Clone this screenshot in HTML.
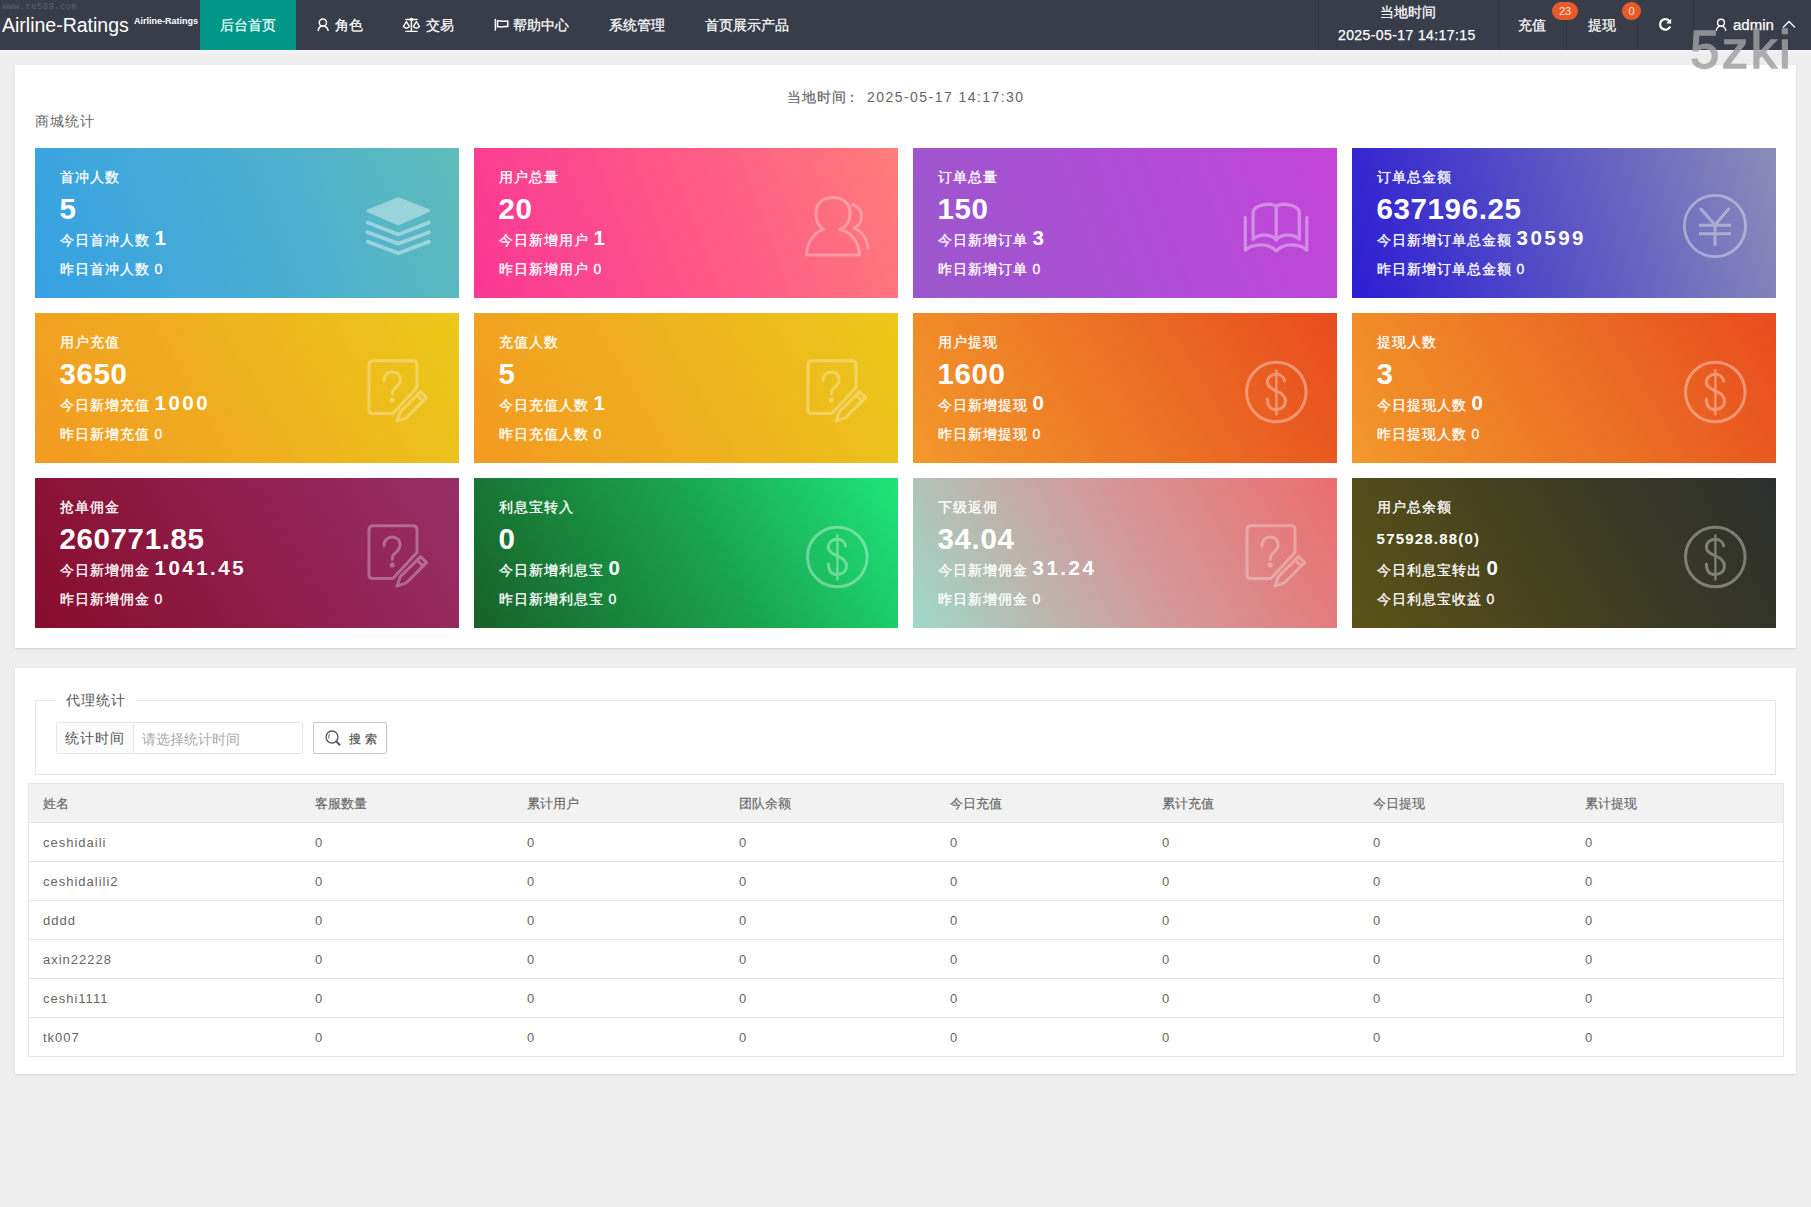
<!DOCTYPE html>
<html><head><meta charset="utf-8">
<style>
*{box-sizing:border-box;margin:0;padding:0}
html,body{width:1811px;height:1207px;overflow:hidden}
body{background:#eeeeee;font-family:"Liberation Sans",sans-serif;font-size:14px;color:#666;position:relative}
.abs{position:absolute;white-space:nowrap}
#hdr{position:absolute;left:0;top:0;width:1811px;height:50px;background:#393D49}
#hdr .t{position:absolute;color:#fff;font-size:14px;line-height:16px;white-space:nowrap;-webkit-text-stroke:0.25px currentColor}
.sep{position:absolute;top:0;width:1px;height:50px;background:rgba(0,0,0,.13)}
.badge{position:absolute;background:#E95A2B;color:#ffe6d2;font-size:11px;line-height:18px;height:18px;text-align:center;border-radius:9px}
.panel{position:absolute;left:15px;width:1781px;background:#fff;box-shadow:0 1px 2px rgba(0,0,0,.12)}
.card{position:absolute;width:424px;height:150px;color:#fff;letter-spacing:1px;overflow:hidden;-webkit-text-stroke:0.3px #fff}
.card .l{position:absolute;left:24.6px;white-space:nowrap}
.card .ti{top:21px;font-size:14px;line-height:16px}
.card .nu{top:45px;font-size:29.5px;line-height:32px;font-weight:bold;letter-spacing:0.6px;-webkit-text-stroke:0}
.card .nu.sm{top:53px;font-size:15px;line-height:16px;letter-spacing:1.2px}
.card .td{top:80px;font-size:14px;line-height:20px}
.card .td b{font-size:20.5px;letter-spacing:2.5px;-webkit-text-stroke:0}
.card .yd{top:113px;font-size:14px;line-height:16px}
.fs{position:absolute;border:1px solid #e6e6e6}
.th{font-size:13px;line-height:16px;letter-spacing:0;color:#666;-webkit-text-stroke:0.15px #666}
.td2{font-size:13px;line-height:16px;letter-spacing:1px;color:#666}
.card svg{position:absolute;left:331px;top:46px;width:64px;height:64px;overflow:visible}
</style></head><body>

<div id="hdr">
  <div class="abs" style="left:2.5px;top:1.5px;font-family:'Liberation Mono',monospace;font-size:9px;line-height:11px;color:#5d616c;letter-spacing:.35px">www.re589.com</div>
  <div class="abs" style="left:2px;top:13.5px;font-size:19.5px;line-height:22px;color:#fff">Airline-Ratings</div>
  <div class="abs" style="left:134px;top:15.5px;font-size:9px;line-height:11px;color:#fff;font-weight:bold">Airline-Ratings</div>
  <div class="abs" style="left:200px;top:0;width:96px;height:50px;background:#009688"></div>
  <div class="t" style="left:220px;top:17px;color:#e8fffb">后台首页</div>
  <div class="t" style="left:335px;top:17px">角色</div>
  <div class="t" style="left:426px;top:17px">交易</div>
  <div class="t" style="left:513px;top:17px">帮助中心</div>
  <div class="t" style="left:609px;top:17px">系统管理</div>
  <div class="t" style="left:705px;top:17px">首页展示产品</div>

  <div class="sep" style="left:1318px"></div>
  <div class="sep" style="left:1499px"></div>
  <div class="sep" style="left:1566px"></div>
  <div class="sep" style="left:1637px"></div>
  <div class="sep" style="left:1693px"></div>
  <div class="t" style="left:1380px;top:4px">当地时间</div>
  <div class="t" style="left:1338px;top:27px;letter-spacing:0.4px">2025-05-17 14:17:15</div>
  <div class="t" style="left:1518px;top:17px">充值</div>
  <div class="t" style="left:1588px;top:17px">提现</div>
  <div class="badge" style="left:1552px;top:2px;width:26px">23</div>
  <div class="badge" style="left:1622px;top:2px;width:19px">0</div>
  <div class="t" style="left:1733px;top:16.5px;font-size:15px">admin</div>
  <svg class="abs" style="left:310px;top:10px" width="30" height="30" viewBox="310 10 30 30"><g fill="none" stroke="#fff" stroke-width="1.5" stroke-linecap="round"><circle cx="322.9" cy="22.6" r="3.6"/><path d="M318.2,30.4 C318.6,27.5 320.5,25.9 322.9,25.9 C325.3,25.9 327.4,27.5 328.1,30.4"/></g></svg>
  <svg class="abs" style="left:395px;top:10px" width="30" height="30" viewBox="395 10 30 30"><g fill="none" stroke="#fff" stroke-width="1.4" stroke-linecap="round" stroke-linejoin="round"><path d="M405.9,19.5 H417.1 M405.9,31.4 H417.1 M411.4,20 V31.4"/><circle cx="411.4" cy="19.5" r="1.1" fill="#fff"/><path d="M406.4,21.7 L403.3,26.6 Q406.4,29.8 409.5,26.6 Z M416.4,21.7 L413.3,26.6 Q416.4,29.8 419.5,26.6 Z"/></g></svg>
  <svg class="abs" style="left:485px;top:10px" width="30" height="30" viewBox="485 10 30 30"><g fill="none" stroke="#fff" stroke-width="1.5" stroke-linecap="round" stroke-linejoin="round"><path d="M495.4,19.5 V30.1"/><path d="M497.5,21 C500,20 502,22 504.5,21.2 C505.8,20.8 507.2,21 507.8,21 V26.5 C506,26.5 504.5,26.2 502.5,26.8 C500.5,27.3 499,26.3 497.5,26.8 Z"/></g></svg>
  <svg class="abs" style="left:1650px;top:10px" width="30" height="30" viewBox="1650 10 30 30"><g fill="none" stroke="#fff" stroke-width="2.2" stroke-linecap="butt"><path d="M1669.6,21.2 A5.3,5.3 0 1 0 1670.2,26.5"/></g><path d="M1671.2,18.7 L1671.2,23.8 L1666.2,23.2 Z" fill="#fff"/></svg>
  <svg class="abs" style="left:1705px;top:10px" width="30" height="30" viewBox="1705 10 30 30"><g fill="none" stroke="#fff" stroke-width="1.4" stroke-linecap="round"><circle cx="1721" cy="22.7" r="3.4"/><path d="M1716.3,30.4 C1716.7,27.6 1718.6,26.1 1721,26.1 C1723.4,26.1 1725.3,27.6 1725.7,30.4"/></g></svg>
  <svg class="abs" style="left:1780px;top:15px" width="18" height="16" viewBox="1780 15 18 16"><path d="M1783,27.5 L1789,21.5 L1795,27.5" fill="none" stroke="#fff" stroke-width="1.3"/></svg>

</div>

<div class="abs" style="left:0;top:50px;width:1811px;height:1px;background:#f7f6fa"></div><div class="abs" style="left:0;top:51px;width:1811px;height:3px;background:#f0eff3"></div>
<div class="panel" style="top:65px;height:583px"></div>
<svg width="0" height="0" style="position:absolute">
 <defs>
  <symbol style="overflow:visible" id="i-layers" viewBox="0 0 64 64">
   <g opacity=".4" fill="none" stroke="#fff" stroke-width="3.8" stroke-linecap="round" stroke-linejoin="round">
    <path d="M2,16.9 L32.3,4.6 L62.6,16.6 L32.3,29.8 Z" fill="#fff" stroke-width="3"/>
    <path d="M1.6,28.5 L32.3,40.4 L63,28.5"/>
    <path d="M1.6,38.2 L32.3,49.6 L63,38.2"/>
    <path d="M1.6,47.6 L32.3,59.2 L63,47.6"/>
   </g>
  </symbol>
  <symbol style="overflow:visible" id="i-users" viewBox="0 0 64 64">
   <g opacity=".3" fill="none" stroke="#fff" stroke-width="3" stroke-linecap="round" stroke-linejoin="round">
    <path d="M18.6,35.4 C12,31.5 10.5,24 11,17 C12,8.5 19,3.5 28,3.5 C37,3.5 44,8.5 45,17 C45.5,24 44,31.5 35,35.4 C47,38.5 54,48 54.5,61 L1.5,61 C2,48 9,38.5 18.6,35.4 Z"/>
    <path d="M47.5,10.5 C54,12.5 56.5,18 56.5,23 C56.5,28 54,31.5 49,34 C57,37 62,45 63,54"/>
   </g>
  </symbol>
  <symbol style="overflow:visible" id="i-book" viewBox="0 0 64 64">
   <g opacity=".36" fill="none" stroke="#fff" stroke-width="3.3" stroke-linecap="round" stroke-linejoin="round">
    <path d="M1.3,23.5 V56.3 C8,50 24,48 32.2,57 C40.4,48 56.4,50 62.8,56.3 V23.5"/>
    <path d="M9.1,45 V19 C9.1,10 28,8.5 32.2,12.5 C36.4,8.5 55.3,10 55.3,19 V45"/>
    <path d="M9.1,45 C16,39.5 27,39.5 32.2,46 C37.4,39.5 48.4,39.5 55.3,45"/>
    <path d="M32.2,12.5 V46"/>
   </g>
  </symbol>
  <symbol style="overflow:visible" id="i-yen" viewBox="0 0 64 64">
   <g opacity=".38" fill="none" stroke="#fff" stroke-width="2.8" stroke-linecap="round" stroke-linejoin="round">
    <circle cx="32" cy="32" r="30.6"/>
    <path d="M18,15 L32,31 L45.6,15" stroke-width="3"/>
    <path d="M32,31 V50.5" stroke-width="3"/>
    <path d="M16,31.3 H48 M16,39.8 H48" stroke-width="3" stroke-linecap="butt"/>
   </g>
  </symbol>
  <symbol style="overflow:visible" id="i-survey" viewBox="0 0 64 64">
   <g opacity=".3" fill="none" stroke="#fff" stroke-width="3" stroke-linecap="round" stroke-linejoin="round">
    <path d="M26.9,54.6 H7 Q3,54.6 3,50.6 V5.7 Q3,1.7 7,1.7 H47 Q51,1.7 51,5.7 V28.5 Z" stroke-linejoin="miter"/>
    <path d="M54.5,32.6 L60.5,38.6 L40.4,58.8 L31,62.1 L34.3,52.7 Z"/>
    <path d="M51,36 L57,42"/>
    <path d="M18,21.8 C18,16.5 21.5,12.9 26.2,12.9 C30.8,12.9 34.2,16.2 34.2,20.8 C34.2,25.2 31,27.3 28.3,29.8 C26.9,31.2 26.3,32.8 26.3,35.2"/>
    <circle cx="26.2" cy="41" r="1.1" fill="#fff"/>
   </g>
  </symbol>
  <symbol style="overflow:visible" id="i-dollar" viewBox="0 0 64 64">
   <g opacity=".36" fill="none" stroke="#fff" stroke-width="3" stroke-linecap="round" stroke-linejoin="round">
    <circle cx="32.3" cy="33" r="29.8"/>
    <path d="M40.6,22 C39.8,17.8 36.4,15.3 32.3,15.3 C27.4,15.3 23.4,18.3 23.4,23 C23.4,27.8 27.5,29.8 32.3,31.8 C37.2,33.8 41.5,36.4 41.5,42 C41.5,47 37.5,50.6 32.3,50.6 C27,50.6 23.4,47.2 23.4,40"/>
    <path d="M32.4,11.5 V55.3" stroke-width="2.4"/>
   </g>
  </symbol>
 </defs>
</svg>

<div class="abs" style="left:787px;top:89px;letter-spacing:1px;line-height:16px;-webkit-text-stroke:0.2px #666">当地时间<span style="margin-left:-2px">：</span></div><div class="abs" style="left:867px;top:89px;letter-spacing:1.45px;line-height:16px">2025-05-17 14:17:30</div>
<div class="abs" style="left:35px;top:113px;letter-spacing:1px;line-height:16px">商城统计</div>
<div class="card" style="left:35px;top:148px;background:linear-gradient(70deg,#36a1e4 0%,#4db0cf 60%,#5fbcb9 100%)">
 <div class="l ti">首冲人数</div><div class="l nu">5</div>
 <div class="l td">今日首冲人数 <b>1</b></div><div class="l yd">昨日首冲人数 0</div>
 <svg viewBox="0 0 64 64"><use href="#i-layers"/></svg>
</div>
<div class="card" style="left:474px;top:148px;background:linear-gradient(70deg,#fa3795 0%,#fe5a86 55%,#ff7d7a 100%)">
 <div class="l ti">用户总量</div><div class="l nu">20</div>
 <div class="l td">今日新增用户 <b>1</b></div><div class="l yd">昨日新增用户 0</div>
 <svg viewBox="0 0 64 64"><use href="#i-users"/></svg>
</div>
<div class="card" style="left:913px;top:148px;background:linear-gradient(70deg,#9a58cb 0%,#b04cd6 55%,#c345d8 100%)">
 <div class="l ti">订单总量</div><div class="l nu">150</div>
 <div class="l td">今日新增订单 <b>3</b></div><div class="l yd">昨日新增订单 0</div>
 <svg viewBox="0 0 64 64"><use href="#i-book"/></svg>
</div>
<div class="card" style="left:1352px;top:148px;background:linear-gradient(75deg,#2b1dd3 0%,#5a55c4 50%,#8c8cb8 100%)">
 <div class="l ti">订单总金额</div><div class="l nu">637196.25</div>
 <div class="l td">今日新增订单总金额 <b>30599</b></div><div class="l yd">昨日新增订单总金额 0</div>
 <svg viewBox="0 0 64 64"><use href="#i-yen"/></svg>
</div>
<div class="card" style="left:35px;top:313px;background:linear-gradient(60deg,#f39a22 0%,#eeb11e 50%,#ecc91a 100%)">
 <div class="l ti">用户充值</div><div class="l nu">3650</div>
 <div class="l td">今日新增充值 <b>1000</b></div><div class="l yd">昨日新增充值 0</div>
 <svg viewBox="0 0 64 64"><use href="#i-survey"/></svg>
</div>
<div class="card" style="left:474px;top:313px;background:linear-gradient(60deg,#f39a22 0%,#eeb11e 50%,#ecc91a 100%)">
 <div class="l ti">充值人数</div><div class="l nu">5</div>
 <div class="l td">今日充值人数 <b>1</b></div><div class="l yd">昨日充值人数 0</div>
 <svg viewBox="0 0 64 64"><use href="#i-survey"/></svg>
</div>
<div class="card" style="left:913px;top:313px;background:linear-gradient(60deg,#f3982a 0%,#ec7325 50%,#e84b1e 100%)">
 <div class="l ti">用户提现</div><div class="l nu">1600</div>
 <div class="l td">今日新增提现 <b>0</b></div><div class="l yd">昨日新增提现 0</div>
 <svg viewBox="0 0 64 64"><use href="#i-dollar"/></svg>
</div>
<div class="card" style="left:1352px;top:313px;background:linear-gradient(60deg,#f3982a 0%,#ec7325 50%,#e84b1e 100%)">
 <div class="l ti">提现人数</div><div class="l nu">3</div>
 <div class="l td">今日提现人数 <b>0</b></div><div class="l yd">昨日提现人数 0</div>
 <svg viewBox="0 0 64 64"><use href="#i-dollar"/></svg>
</div>
<div class="card" style="left:35px;top:478px;background:linear-gradient(60deg,#880c2c 0%,#8f1e4a 50%,#972f68 100%)">
 <div class="l ti">抢单佣金</div><div class="l nu">260771.85</div>
 <div class="l td">今日新增佣金 <b>1041.45</b></div><div class="l yd">昨日新增佣金 0</div>
 <svg viewBox="0 0 64 64"><use href="#i-survey"/></svg>
</div>
<div class="card" style="left:474px;top:478px;background:linear-gradient(60deg,#176128 0%,#1aa34f 55%,#1ee679 100%)">
 <div class="l ti">利息宝转入</div><div class="l nu">0</div>
 <div class="l td">今日新增利息宝 <b>0</b></div><div class="l yd">昨日新增利息宝 0</div>
 <svg viewBox="0 0 64 64"><use href="#i-dollar"/></svg>
</div>
<div class="card" style="left:913px;top:478px;background:linear-gradient(60deg,#9fd8c8 0%,#d39a9a 50%,#ec6d6f 100%)">
 <div class="l ti">下级返佣</div><div class="l nu">34.04</div>
 <div class="l td">今日新增佣金 <b>31.24</b></div><div class="l yd">昨日新增佣金 0</div>
 <svg viewBox="0 0 64 64"><use href="#i-survey"/></svg>
</div>
<div class="card" style="left:1352px;top:478px;background:linear-gradient(60deg,#5b5317 0%,#3e3d22 55%,#2c2f2e 100%)">
 <div class="l ti">用户总余额</div><div class="l nu sm">575928.88(0)</div>
 <div class="l td">今日利息宝转出 <b>0</b></div><div class="l yd">今日利息宝收益 0</div>
 <svg viewBox="0 0 64 64"><use href="#i-dollar"/></svg>
</div>
<div class="panel" style="top:668px;height:406px"></div>
<div class="fs" style="left:35px;top:700px;width:1741px;height:75px"></div>
<div class="abs lg" style="left:56px;top:692px;width:80px;height:16px;background:#fff"></div>
<div class="abs" style="left:66px;top:692px;letter-spacing:1px;line-height:16px;color:#555">代理统计</div>
<div class="abs" style="left:56px;top:722px;width:247px;height:32px;border:1px solid #e6e6e6;border-radius:2px"></div>
<div class="abs" style="left:57px;top:723px;width:77px;height:30px;background:#fbfbfb;border-right:1px solid #e6e6e6"></div>
<div class="abs" style="left:65px;top:730px;letter-spacing:1px;line-height:16px;color:#555">统计时间</div>
<div class="abs" style="left:142px;top:731px;line-height:16px;color:#aaa">请选择统计时间</div>
<div class="abs" style="left:313px;top:722px;width:74px;height:32px;border:1px solid #c9c9c9;border-radius:2px;background:#fff"></div>
<div class="abs" style="left:349px;top:732px;font-size:12px;line-height:14px;color:#555;letter-spacing:0.4px;-webkit-text-stroke:0.2px #555">搜 索</div>
<svg class="abs" style="left:323px;top:729px" width="20" height="18" viewBox="0 0 20 18"><g fill="none" stroke="#555" stroke-width="1.3"><circle cx="9" cy="8" r="6"/><path d="M13.2,12.4 L16.6,15.8" stroke-width="2" stroke-linecap="round"/><path d="M6,9.5 A3.6,3.6 0 0 1 6.8,5.2" stroke-width="1"/></g></svg>
<div class="abs" style="left:28px;top:783px;width:1756px;height:274px;border:1px solid #e6e6e6"></div>
<div class="abs" style="left:29px;top:784px;width:1754px;height:38px;background:#f2f2f2"></div>
<div class="abs" style="left:29px;top:822px;width:1754px;height:1px;background:#e6e6e6"></div>
<div class="abs" style="left:29px;top:861px;width:1754px;height:1px;background:#e6e6e6"></div>
<div class="abs" style="left:29px;top:900px;width:1754px;height:1px;background:#e6e6e6"></div>
<div class="abs" style="left:29px;top:939px;width:1754px;height:1px;background:#e6e6e6"></div>
<div class="abs" style="left:29px;top:978px;width:1754px;height:1px;background:#e6e6e6"></div>
<div class="abs" style="left:29px;top:1017px;width:1754px;height:1px;background:#e6e6e6"></div>
<div class="abs" style="left:29px;top:1056px;width:1754px;height:1px;background:#e6e6e6"></div>
<div class="abs th" style="left:43px;top:796px">姓名</div>
<div class="abs th" style="left:315px;top:796px">客服数量</div>
<div class="abs th" style="left:527px;top:796px">累计用户</div>
<div class="abs th" style="left:739px;top:796px">团队余额</div>
<div class="abs th" style="left:950px;top:796px">今日充值</div>
<div class="abs th" style="left:1162px;top:796px">累计充值</div>
<div class="abs th" style="left:1373px;top:796px">今日提现</div>
<div class="abs th" style="left:1585px;top:796px">累计提现</div>
<div class="abs td2" style="left:43px;top:835px">ceshidaili</div>
<div class="abs td2" style="left:315px;top:835px">0</div>
<div class="abs td2" style="left:527px;top:835px">0</div>
<div class="abs td2" style="left:739px;top:835px">0</div>
<div class="abs td2" style="left:950px;top:835px">0</div>
<div class="abs td2" style="left:1162px;top:835px">0</div>
<div class="abs td2" style="left:1373px;top:835px">0</div>
<div class="abs td2" style="left:1585px;top:835px">0</div>
<div class="abs td2" style="left:43px;top:874px">ceshidalili2</div>
<div class="abs td2" style="left:315px;top:874px">0</div>
<div class="abs td2" style="left:527px;top:874px">0</div>
<div class="abs td2" style="left:739px;top:874px">0</div>
<div class="abs td2" style="left:950px;top:874px">0</div>
<div class="abs td2" style="left:1162px;top:874px">0</div>
<div class="abs td2" style="left:1373px;top:874px">0</div>
<div class="abs td2" style="left:1585px;top:874px">0</div>
<div class="abs td2" style="left:43px;top:913px">dddd</div>
<div class="abs td2" style="left:315px;top:913px">0</div>
<div class="abs td2" style="left:527px;top:913px">0</div>
<div class="abs td2" style="left:739px;top:913px">0</div>
<div class="abs td2" style="left:950px;top:913px">0</div>
<div class="abs td2" style="left:1162px;top:913px">0</div>
<div class="abs td2" style="left:1373px;top:913px">0</div>
<div class="abs td2" style="left:1585px;top:913px">0</div>
<div class="abs td2" style="left:43px;top:952px">axin22228</div>
<div class="abs td2" style="left:315px;top:952px">0</div>
<div class="abs td2" style="left:527px;top:952px">0</div>
<div class="abs td2" style="left:739px;top:952px">0</div>
<div class="abs td2" style="left:950px;top:952px">0</div>
<div class="abs td2" style="left:1162px;top:952px">0</div>
<div class="abs td2" style="left:1373px;top:952px">0</div>
<div class="abs td2" style="left:1585px;top:952px">0</div>
<div class="abs td2" style="left:43px;top:991px">ceshi1111</div>
<div class="abs td2" style="left:315px;top:991px">0</div>
<div class="abs td2" style="left:527px;top:991px">0</div>
<div class="abs td2" style="left:739px;top:991px">0</div>
<div class="abs td2" style="left:950px;top:991px">0</div>
<div class="abs td2" style="left:1162px;top:991px">0</div>
<div class="abs td2" style="left:1373px;top:991px">0</div>
<div class="abs td2" style="left:1585px;top:991px">0</div>
<div class="abs td2" style="left:43px;top:1030px">tk007</div>
<div class="abs td2" style="left:315px;top:1030px">0</div>
<div class="abs td2" style="left:527px;top:1030px">0</div>
<div class="abs td2" style="left:739px;top:1030px">0</div>
<div class="abs td2" style="left:950px;top:1030px">0</div>
<div class="abs td2" style="left:1162px;top:1030px">0</div>
<div class="abs td2" style="left:1373px;top:1030px">0</div>
<div class="abs td2" style="left:1585px;top:1030px">0</div>

  <div class="abs" style="left:1690px;top:19.5px;font-size:53px;line-height:60px;color:rgb(160,160,162);-webkit-text-stroke:1.4px rgb(160,160,162);opacity:.83;letter-spacing:2.2px;z-index:50">5zki</div>
</body></html>
